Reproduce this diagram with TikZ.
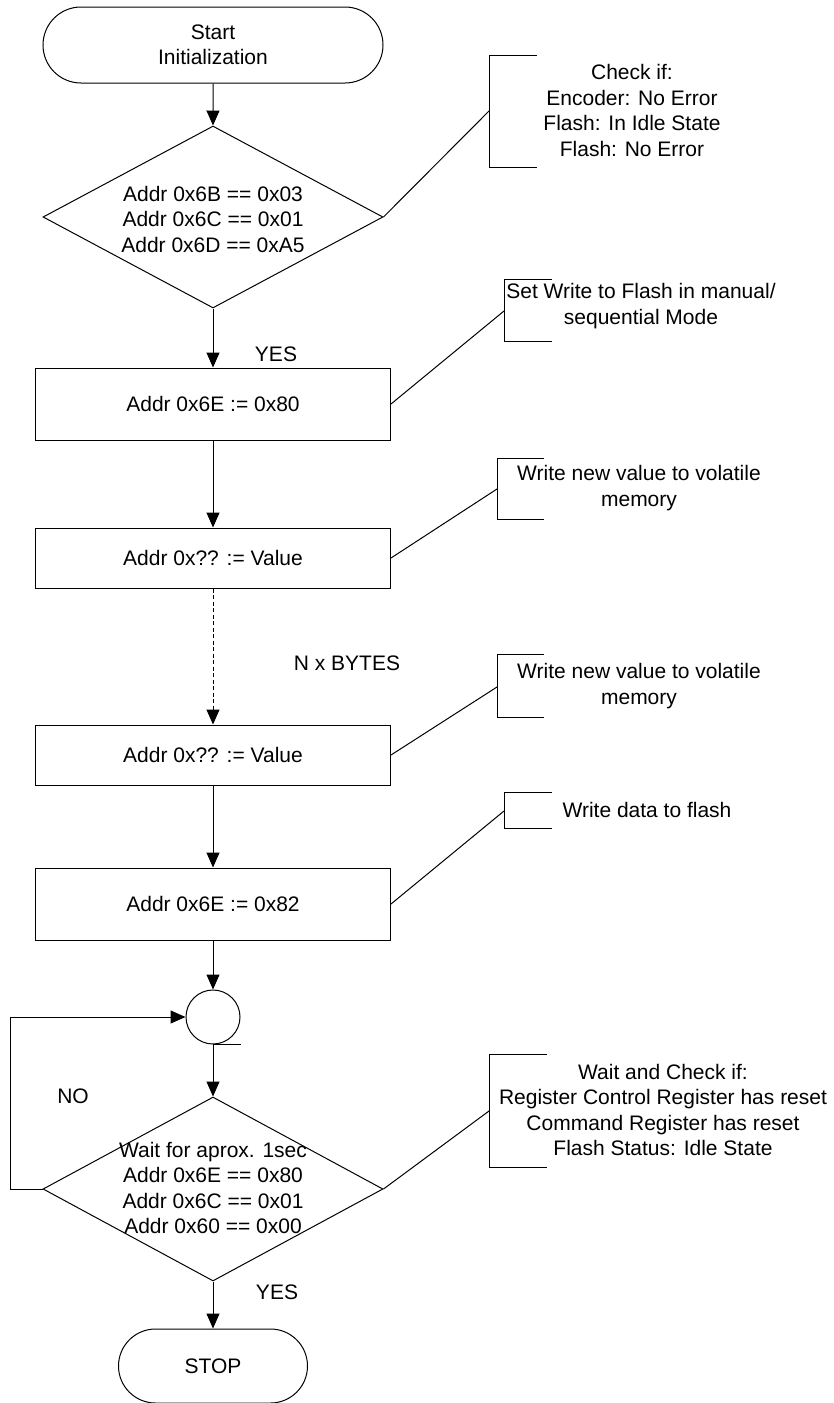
\documentclass[tikz,border=0pt]{standalone}
\usepackage{fontspec}
\setmainfont{Liberation Sans}
\usetikzlibrary{shapes.geometric,shapes.misc,arrows.meta}
\begin{document}
\begin{tikzpicture}[x=1pt,y=-1pt, line width=1pt,
  every node/.style={font=\fontsize{21}{25.5}\selectfont, inner sep=0pt, align=center},
  term/.style={draw, rounded rectangle, minimum width=340pt, minimum height=76pt},
  procbox/.style={draw, rectangle, minimum width=355pt},
  decision/.style={draw, diamond, minimum width=340pt, minimum height=182pt},
  joint/.style={draw, circle, minimum size=54pt},
  arr/.style={-{Triangle[length=15pt,width=13pt]}},
  dasharr/.style={arr, dash pattern=on 4pt off 2.5pt},
  bracketline/.style={line width=1pt}
]
\useasboundingbox (0,0) rectangle (833,1403);

% main flow
\node[term] (start) at (213,45) {Start\\Initialization};
\node[decision] (d1) at (213,217) {};
\node (d1t) at (213,219) {Addr 0x6B == 0x03\\Addr 0x6C == 0x01\\Addr 0x6D == 0xA5};
\node[procbox, minimum height=72pt] (p1) at (213,404) {Addr 0x6E := 0x80};
\node[procbox, minimum height=60pt] (p2) at (213,558) {Addr 0x?? := Value};
\node[procbox, minimum height=60pt] (p3) at (213,755) {Addr 0x?? := Value};
\node[procbox, minimum height=72pt] (p4) at (213,904) {Addr 0x6E := 0x82};
\node[joint] (j) at (213,1017) {};
\node[decision, minimum height=184pt] (d2) at (213,1189) {};
\node (d2t) at (213,1188) {Wait for aprox. 1sec\\Addr 0x6E == 0x80\\Addr 0x6C == 0x01\\Addr 0x60 == 0x00};
\node[term, minimum width=189pt, minimum height=74pt] (stop) at (213,1366) {STOP};

\draw[arr] (start) -- (d1);
\draw[arr] (d1) -- (p1);
\draw[arr] (p1) -- (p2);
\draw[dasharr] (p2) -- (p3);
\draw[arr] (p3) -- (p4);
\draw[arr] (p4) -- (j);
\draw[arr] (j) -- (d2);
\draw[arr] (d2) -- (stop);
\draw (j.south) -- ++(28,0);

\coordinate (nocorner) at (10,1189);
\draw[arr] (d2.west) -- (nocorner) |- (j.west);

% labels
\node (yes1) at (276,354) {YES};
\node (nx) at (347,663) {N x BYTES};
\node (no) at (73,1096) {NO};
\node (yes2) at (277,1292) {YES};

% annotation 1
\coordinate (a1) at (489,111);
\draw[bracketline] (537,55) -| (489,167) -- (537,167);
\draw (d1.east) -- (a1);
\node (t1) at (632,110.5) {Check if:\\Encoder: No Error\\Flash: In Idle State\\Flash: No Error};

% annotation 2
\coordinate (a2) at (504,311);
\draw[bracketline] (552,279) -| (504,341) -- (552,341);
\draw (p1.east) -- (a2);
\node (t2) at (641,306) {Set Write to Flash in manual/\\sequential Mode};

% annotation 3
\coordinate (a3) at (497,489);
\draw[bracketline] (544,458) -| (497,519) -- (544,519);
\draw (p2.east) -- (a3);
\node (t3) at (639,488) {Write new value to volatile\\memory};

% annotation 4
\coordinate (a4) at (497,687);
\draw[bracketline] (544,654) -| (497,717) -- (544,717);
\draw (p3.east) -- (a4);
\node (t4) at (639,686) {Write new value to volatile\\memory};

% annotation 5
\coordinate (a5) at (504,811);
\draw[bracketline] (552,792) -| (504,828) -- (552,828);
\draw (p4.east) -- (a5);
\node (t5) at (647,810) {Write data to flash};

% annotation 6
\coordinate (a6) at (489,1111);
\draw[bracketline] (547,1054) -| (489,1167) -- (547,1167);
\draw (d2.east) -- (a6);
\node (t6) at (663,1110) {Wait and Check if:\\Register Control Register has reset\\Command Register has reset\\Flash Status: Idle State};
\end{tikzpicture}
\end{document}
